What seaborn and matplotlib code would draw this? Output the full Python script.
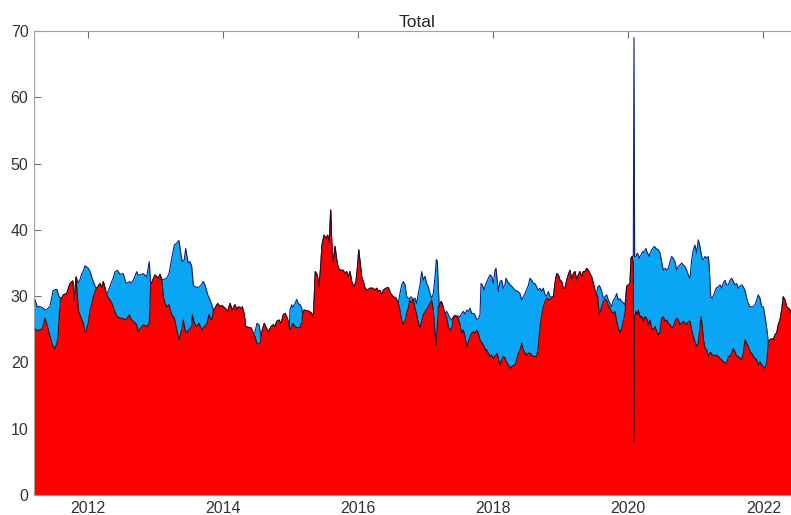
import matplotlib
matplotlib.use("Agg")
import matplotlib.pyplot as plt
import pandas as pd
import seaborn as sns

# Decimal-year sample positions shared by both series
years = [
    2011.204, 2011.248, 2011.322, 2011.367, 2011.396, 2011.441, 2011.485, 2011.515, 2011.544, 2011.564,
    2011.578, 2011.589, 2011.614, 2011.638, 2011.688, 2011.737, 2011.777, 2011.800, 2011.826, 2011.860,
    2011.885, 2011.910, 2011.934, 2011.959, 2011.984, 2012.008, 2012.033, 2012.082, 2012.117, 2012.132,
    2012.181, 2012.206, 2012.230, 2012.280, 2012.299, 2012.329, 2012.354, 2012.378, 2012.403, 2012.437,
    2012.477, 2012.526, 2012.566, 2012.614, 2012.640, 2012.674, 2012.724, 2012.743, 2012.773, 2012.822,
    2012.872, 2012.910, 2012.931, 2012.995, 2013.044, 2013.069, 2013.103, 2013.118, 2013.143, 2013.168,
    2013.202, 2013.242, 2013.280, 2013.316, 2013.350, 2013.369, 2013.380, 2013.399, 2013.414, 2013.428,
    2013.449, 2013.468, 2013.488, 2013.513, 2013.538, 2013.547, 2013.562, 2013.576, 2013.612, 2013.646,
    2013.661, 2013.686, 2013.710, 2013.735, 2013.760, 2013.775, 2013.794, 2013.809, 2013.834, 2013.843,
    2013.861, 2013.883, 2013.923, 2013.957, 2013.982, 2014.031, 2014.071, 2014.105, 2014.139, 2014.179,
    2014.204, 2014.228, 2014.268, 2014.287, 2014.316, 2014.337, 2014.376, 2014.416, 2014.450, 2014.475,
    2014.504, 2014.534, 2014.553, 2014.564, 2014.583, 2014.612, 2014.642, 2014.672, 2014.712, 2014.746,
    2014.771, 2014.796, 2014.830, 2014.860, 2014.894, 2014.919, 2014.953, 2014.982, 2014.993, 2015.018,
    2015.033, 2015.067, 2015.092, 2015.116, 2015.141, 2015.166, 2015.181, 2015.200, 2015.240, 2015.278,
    2015.314, 2015.338, 2015.352, 2015.367, 2015.397, 2015.422, 2015.447, 2015.466, 2015.496, 2015.526,
    2015.551, 2015.574, 2015.595, 2015.614, 2015.634, 2015.659, 2015.684, 2015.708, 2015.743, 2015.782,
    2015.807, 2015.832, 2015.856, 2015.881, 2015.906, 2015.940, 2015.970, 2015.995, 2016.010, 2016.029,
    2016.054, 2016.078, 2016.103, 2016.137, 2016.177, 2016.217, 2016.251, 2016.276, 2016.300, 2016.325,
    2016.350, 2016.374, 2016.414, 2016.448, 2016.483, 2016.522, 2016.562, 2016.596, 2016.610, 2016.646,
    2016.670, 2016.695, 2016.720, 2016.744, 2016.762, 2016.784, 2016.818, 2016.843, 2016.868, 2016.892,
    2016.917, 2016.942, 2016.966, 2016.991, 2017.016, 2017.040, 2017.065, 2017.090, 2017.114, 2017.139,
    2017.158, 2017.173, 2017.188, 2017.202, 2017.228, 2017.247, 2017.262, 2017.287, 2017.312, 2017.336,
    2017.361, 2017.386, 2017.410, 2017.435, 2017.475, 2017.509, 2017.534, 2017.558, 2017.583, 2017.608,
    2017.632, 2017.657, 2017.682, 2017.706, 2017.731, 2017.756, 2017.780, 2017.805, 2017.820, 2017.839,
    2017.864, 2017.879, 2017.894, 2017.928, 2017.953, 2017.978, 2018.002, 2018.027, 2018.042, 2018.056,
    2018.076, 2018.101, 2018.126, 2018.150, 2018.175, 2018.190, 2018.215, 2018.249, 2018.264, 2018.283,
    2018.298, 2018.323, 2018.348, 2018.367, 2018.397, 2018.422, 2018.446, 2018.471, 2018.496, 2018.520,
    2018.545, 2018.570, 2018.594, 2018.619, 2018.644, 2018.668, 2018.693, 2018.718, 2018.742, 2018.767,
    2018.792, 2018.816, 2018.841, 2018.866, 2018.890, 2018.915, 2018.940, 2018.964, 2018.989, 2019.014,
    2019.038, 2019.063, 2019.088, 2019.112, 2019.137, 2019.162, 2019.186, 2019.211, 2019.236, 2019.260,
    2019.285, 2019.310, 2019.334, 2019.359, 2019.384, 2019.408, 2019.433, 2019.458, 2019.482, 2019.507,
    2019.532, 2019.547, 2019.570, 2019.591, 2019.606, 2019.630, 2019.655, 2019.680, 2019.704, 2019.729,
    2019.754, 2019.778, 2019.803, 2019.828, 2019.852, 2019.877, 2019.902, 2019.926, 2019.951, 2019.976,
    2020.000, 2020.025, 2020.040, 2020.054, 2020.074, 2020.084, 2020.094, 2020.114, 2020.133, 2020.148,
    2020.162, 2020.173, 2020.188, 2020.213, 2020.222, 2020.247, 2020.262, 2020.281, 2020.296, 2020.310,
    2020.321, 2020.346, 2020.370, 2020.380, 2020.395, 2020.410, 2020.444, 2020.469, 2020.494, 2020.518,
    2020.543, 2020.568, 2020.592, 2020.617, 2020.642, 2020.666, 2020.691, 2020.716, 2020.740, 2020.765,
    2020.790, 2020.814, 2020.839, 2020.864, 2020.888, 2020.913, 2020.938, 2020.962, 2020.987, 2021.012,
    2021.036, 2021.061, 2021.076, 2021.095, 2021.110, 2021.135, 2021.160, 2021.184, 2021.198, 2021.219,
    2021.243, 2021.272, 2021.298, 2021.332, 2021.357, 2021.382, 2021.406, 2021.431, 2021.456, 2021.480,
    2021.505, 2021.530, 2021.554, 2021.579, 2021.604, 2021.628, 2021.653, 2021.678, 2021.702, 2021.727,
    2021.752, 2021.776, 2021.801, 2021.826, 2021.850, 2021.875, 2021.900, 2021.924, 2021.949, 2021.974,
    2021.998, 2022.023, 2022.048, 2022.072, 2022.097, 2022.122, 2022.146, 2022.171, 2022.196, 2022.220,
    2022.245, 2022.270, 2022.294, 2022.319, 2022.344, 2022.368, 2022.393, 2022.408,
]

# Upper (light blue) series
blue_level = [
    29.9, 28.5, 28.3, 27.9, 28.0, 28.5, 30.8, 31.0, 31.0, 30.3,
    29.9, 29.8, 29.7, 30.2, 30.4, 31.9, 32.3, 29.4, 32.9, 32.0,
    32.5, 33.4, 33.8, 34.6, 34.4, 34.2, 33.7, 32.2, 31.3, 31.2,
    31.9, 31.3, 32.2, 30.2, 30.7, 31.5, 32.2, 32.8, 33.7, 33.9,
    33.3, 33.4, 31.9, 32.2, 32.0, 32.4, 33.7, 33.2, 33.2, 33.4,
    32.9, 35.2, 31.7, 33.2, 32.7, 33.3, 32.4, 32.5, 32.6, 32.7,
    33.4, 35.7, 37.7, 38.0, 38.4, 37.0, 36.2, 35.2, 35.3, 35.5,
    37.2, 36.0, 35.0, 35.2, 34.5, 33.5, 31.7, 31.5, 31.3, 31.4,
    31.5, 31.8, 32.2, 31.7, 30.8, 30.2, 29.8, 29.4, 28.8, 28.4,
    27.9, 28.2, 28.9, 28.4, 28.6, 28.2, 27.7, 28.9, 27.9, 28.7,
    27.9, 28.4, 28.2, 28.4, 27.2, 25.4, 25.3, 25.2, 24.4, 24.6,
    25.9, 25.7, 24.6, 23.9, 24.9, 25.9, 25.2, 24.6, 25.4, 25.7,
    25.4, 26.2, 26.4, 25.9, 27.2, 27.4, 26.7, 25.4, 27.9, 28.7,
    28.3, 28.9, 29.5, 28.9, 28.7, 28.2, 27.2, 27.9, 27.8, 27.7,
    27.4, 26.9, 29.9, 33.7, 33.2, 31.4, 34.4, 37.7, 39.2, 38.7,
    39.2, 38.0, 43.0, 37.0, 35.2, 37.5, 35.5, 34.2, 33.9, 33.9,
    33.4, 33.7, 32.9, 33.7, 32.2, 31.4, 32.2, 34.7, 37.0, 35.2,
    32.9, 32.2, 31.2, 30.9, 31.2, 31.2, 30.9, 31.2, 30.7, 30.9,
    30.2, 30.9, 31.2, 31.3, 30.4, 29.9, 29.7, 28.9, 29.9, 31.7,
    32.2, 31.7, 29.9, 29.7, 29.6, 29.9, 29.5, 29.7, 28.9, 30.4,
    31.7, 33.7, 32.4, 33.0, 31.9, 31.4, 30.4, 29.7, 30.4, 32.9,
    35.5, 35.3, 31.4, 28.4, 29.2, 28.9, 28.2, 27.4, 27.7, 27.2,
    26.7, 26.4, 26.9, 27.1, 27.0, 26.9, 27.4, 27.7, 27.3, 27.9,
    27.7, 28.2, 27.4, 27.4, 27.2, 26.4, 26.6, 27.2, 31.9, 31.7,
    30.9, 31.5, 31.9, 32.7, 33.2, 33.0, 31.9, 33.9, 34.2, 32.8,
    30.7, 32.2, 32.4, 31.2, 31.7, 32.7, 32.2, 31.7, 31.6, 31.4,
    31.2, 30.9, 30.8, 30.7, 30.4, 29.4, 29.9, 30.4, 31.0, 31.6,
    32.7, 32.4, 31.9, 31.9, 31.4, 30.9, 31.2, 30.7, 31.2, 30.2,
    30.0, 30.7, 29.9, 29.9, 29.9, 31.9, 33.4, 33.2, 32.4, 32.2,
    31.2, 31.2, 32.4, 33.2, 33.9, 32.4, 33.4, 33.7, 32.4, 33.2,
    33.7, 32.9, 33.7, 33.7, 34.2, 33.9, 33.4, 32.9, 31.9, 30.9,
    30.2, 31.4, 31.6, 31.2, 30.7, 29.7, 29.9, 30.2, 29.4, 28.9,
    28.4, 29.4, 29.7, 30.4, 29.4, 29.6, 29.2, 29.0, 28.7, 31.5,
    31.7, 31.9, 35.7, 36.0, 36.0, 69.0, 36.0, 36.0, 36.5, 36.2,
    35.7, 36.0, 36.2, 36.7, 36.6, 36.9, 37.2, 36.5, 36.3, 36.0,
    36.4, 37.0, 37.3, 37.5, 37.4, 37.2, 37.0, 36.5, 35.2, 33.9,
    34.2, 33.9, 34.2, 35.2, 36.0, 35.7, 35.2, 33.9, 34.5, 34.7,
    35.0, 34.7, 34.5, 33.9, 33.2, 32.7, 35.5, 37.0, 37.7, 36.5,
    38.5, 37.5, 36.5, 35.6, 35.5, 36.0, 35.7, 36.0, 34.5, 29.9,
    29.7, 30.4, 31.2, 31.4, 31.7, 31.2, 32.0, 32.4, 31.7, 31.7,
    32.4, 32.7, 32.2, 31.7, 31.9, 31.2, 31.5, 31.7, 31.4, 30.9,
    29.7, 28.9, 28.4, 28.4, 28.4, 28.7, 29.4, 30.2, 29.7, 28.4,
    28.4, 26.9, 25.2, 23.1, 23.4, 23.6, 23.4, 24.2, 24.4, 25.7,
    26.4, 27.9, 29.9, 29.4, 28.4, 28.2, 27.9, 27.4,
]

# Lower (red) series
red_level = [
    25.2, 24.8, 25.0, 26.7, 25.7, 23.9, 22.4, 22.1, 23.0, 24.4,
    27.0, 29.4, 29.7, 30.2, 30.4, 31.9, 32.3, 29.4, 32.9, 27.9,
    27.2, 26.5, 25.9, 24.6, 25.0, 26.0, 27.9, 29.9, 31.0, 31.2,
    31.9, 31.3, 32.2, 30.2, 29.8, 29.4, 29.0, 28.4, 27.5, 26.9,
    26.7, 26.6, 26.4, 27.2, 26.5, 26.2, 25.7, 24.7, 25.1, 25.7,
    25.4, 25.9, 31.7, 33.2, 32.7, 33.3, 31.9, 29.9, 28.9, 28.4,
    28.7, 27.2, 26.7, 24.9, 23.4, 24.0, 24.6, 25.5, 26.4, 25.5,
    24.6, 24.5, 24.9, 25.1, 25.4, 27.2, 26.5, 25.9, 25.4, 25.9,
    25.5, 24.9, 25.2, 25.5, 25.7, 26.3, 27.2, 26.8, 26.4, 26.8,
    27.9, 28.2, 28.9, 28.4, 28.6, 28.2, 27.7, 28.9, 27.9, 28.7,
    27.9, 28.4, 28.2, 28.4, 27.2, 25.4, 25.3, 25.2, 24.4, 23.9,
    22.8, 22.8, 22.9, 23.9, 24.9, 25.9, 25.2, 24.6, 25.4, 25.7,
    25.4, 26.2, 26.4, 25.9, 27.2, 27.4, 26.7, 25.4, 24.9, 25.4,
    25.9, 25.4, 25.3, 25.2, 25.3, 26.0, 27.2, 27.9, 27.8, 27.7,
    27.4, 26.9, 29.9, 33.7, 33.2, 31.4, 34.4, 37.7, 39.2, 38.7,
    39.2, 38.0, 43.0, 37.0, 35.2, 37.5, 35.5, 34.2, 33.9, 33.9,
    33.4, 33.7, 32.9, 33.7, 32.2, 31.4, 32.2, 34.7, 37.0, 35.2,
    32.9, 32.2, 31.2, 30.9, 31.2, 31.2, 30.9, 31.2, 30.7, 30.9,
    30.2, 30.9, 31.2, 31.3, 30.4, 29.9, 29.7, 28.9, 28.4, 26.4,
    25.8, 26.2, 27.5, 28.2, 29.4, 29.0, 29.5, 28.2, 27.2, 25.9,
    25.2, 26.2, 27.2, 27.7, 28.0, 28.4, 28.9, 29.4, 27.9, 24.4,
    22.6, 25.4, 28.4, 28.4, 29.2, 28.9, 28.2, 27.4, 26.7, 25.4,
    24.9, 25.1, 26.7, 27.0, 26.8, 25.7, 24.4, 24.9, 23.9, 22.4,
    23.1, 23.9, 24.4, 24.6, 24.4, 24.9, 24.4, 23.4, 23.1, 22.9,
    22.4, 21.9, 22.0, 21.4, 20.9, 21.1, 20.6, 20.9, 21.1, 21.4,
    20.6, 19.6, 20.4, 20.9, 20.7, 20.2, 19.7, 19.3, 19.1, 19.4,
    19.6, 19.6, 20.4, 21.2, 21.9, 22.9, 21.9, 21.4, 21.1, 21.4,
    21.4, 21.1, 20.9, 20.9, 20.9, 22.4, 25.4, 27.2, 28.4, 29.2,
    29.7, 29.5, 29.5, 29.7, 29.9, 31.9, 33.4, 33.2, 32.4, 32.2,
    31.2, 31.2, 32.4, 33.2, 33.9, 32.4, 33.4, 33.7, 32.4, 33.2,
    33.7, 32.9, 33.7, 33.7, 34.2, 33.9, 33.4, 32.9, 31.9, 30.9,
    30.2, 29.9, 27.2, 27.9, 28.4, 29.2, 29.6, 29.3, 28.6, 28.2,
    27.6, 27.5, 27.7, 26.2, 25.2, 24.4, 25.2, 26.4, 27.4, 31.5,
    31.7, 31.9, 35.7, 36.0, 35.0, 8.0, 27.0, 27.7, 27.2, 27.9,
    27.3, 26.7, 27.0, 26.7, 26.2, 26.9, 26.8, 26.4, 25.7, 26.0,
    26.4, 25.2, 24.9, 25.1, 25.4, 25.0, 24.1, 24.6, 26.7, 26.9,
    26.2, 26.4, 25.9, 25.7, 25.2, 25.4, 26.2, 26.7, 26.4, 25.7,
    25.9, 26.2, 25.9, 25.7, 26.2, 26.2, 24.9, 23.9, 23.1, 22.4,
    22.9, 25.4, 26.9, 25.4, 23.6, 22.1, 21.9, 20.9, 21.3, 21.5,
    21.1, 21.0, 21.1, 20.9, 20.6, 20.4, 20.1, 19.9, 19.9, 20.9,
    20.9, 21.4, 22.1, 21.6, 20.9, 20.9, 20.6, 20.4, 21.4, 23.4,
    22.9, 22.4, 21.6, 21.4, 20.9, 20.6, 20.4, 19.6, 20.1, 19.6,
    19.4, 19.1, 19.9, 23.1, 23.4, 23.6, 23.4, 24.2, 24.4, 25.7,
    26.4, 27.9, 29.9, 29.4, 28.4, 28.2, 27.9, 27.4,
]

year_ticks = [2012, 2014, 2016, 2018, 2020, 2022]
value_ticks = [0, 10, 20, 30, 40, 50, 60, 70]

df = pd.DataFrame({"year": years, "blue": blue_level, "red": red_level})

sns.set_style("white")
plt.rcParams["font.family"] = ["Liberation Sans", "DejaVu Sans"]

W, H = 791, 515
fig = plt.figure(figsize=(W / 100, H / 100), dpi=100)
ax = fig.add_axes([34 / W, 1 - 495 / H, 757 / W, 464 / H])

# Blue area underneath, red area drawn over it
ax.fill_between(df["year"], 0, df["blue"], color="#0ba5f5", lw=0, zorder=1)
sns.lineplot(data=df, x="year", y="blue", ax=ax, color="#142070", lw=0.8,
             estimator=None, sort=False, zorder=2)
ax.fill_between(df["year"], 0, df["red"], color="#ff0000", lw=0, zorder=3)
sns.lineplot(data=df, x="year", y="red", ax=ax, color="#3a0808", lw=0.8,
             estimator=None, sort=False, zorder=4)

ax.set_xlim(years[0], years[-1])
ax.set_ylim(0, 70)
ax.set_xticks(year_ticks)
ax.set_xticklabels([str(t) for t in year_ticks])
ax.set_yticks(value_ticks)
ax.set_xlabel("")
ax.set_ylabel("")

ax.set_title("Total", fontsize=12.5, color="#262626", pad=3, x=0.506)

ax.tick_params(axis="both", direction="in", length=5, width=0.8,
               color="#707070", labelsize=11.5, labelcolor="#333333", pad=4)
ax.tick_params(axis="x", top=True, bottom=True)
ax.tick_params(axis="y", left=True, right=False)

for side in ("top", "left", "bottom"):
    ax.spines[side].set_visible(True)
    ax.spines[side].set_color("#a0a0a0")
    ax.spines[side].set_linewidth(0.8)
    ax.spines[side].set_zorder(6)
ax.spines["right"].set_visible(False)

fig.savefig("out.png", dpi=100)
